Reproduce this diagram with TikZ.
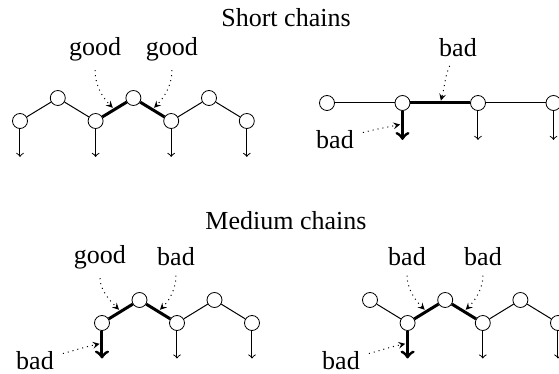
\documentclass[tikz,border=0pt]{standalone}
\usepackage{fontspec}
\setmainfont{Liberation Serif}
\usepackage{tikz}
\usetikzlibrary{positioning}

\begin{document}
\begin{tikzpicture}[
    x=0.5pt, y=0.5pt,
    font=\fontsize{13}{15}\selectfont,
    atom/.style={circle, draw, fill=white, inner sep=0pt, minimum size=7.5pt},
    bond/.style={line width=0.5pt},
    strong/.style={line width=1.5pt},
    down/.style={->, >=to, line width=0.5pt},
    downbad/.style={->, >=to, line width=1.5pt},
    hint/.style={->, >=stealth, dotted, line width=0.5pt, shorten <=3.5pt, shorten >=1.2pt},
    tag/.style={inner sep=1pt}
]
\useasboundingbox (0,0) rectangle (559,-374);

% Titles
\node (short) at (286,-18) {Short chains};
\node (medium) at (286,-221) {Medium chains};

% Short chains, left
\node[atom] (sl1) at (20,-121) {};
\node[atom] (sl2) at (57.8,-98) {};
\node[atom] (sl3) at (95.6,-121) {};
\node[atom] (sl4) at (133.4,-98) {};
\node[atom] (sl5) at (171.2,-121) {};
\node[atom] (sl6) at (209,-98) {};
\node[atom] (sl7) at (246.8,-121) {};
\draw[bond] (sl1) -- (sl2);
\draw[bond] (sl2) -- (sl3);
\draw[strong] (sl3) -- (sl4) coordinate[midway] (sl34);
\draw[strong] (sl4) -- (sl5) coordinate[midway] (sl45);
\draw[bond] (sl5) -- (sl6);
\draw[bond] (sl6) -- (sl7);
\coordinate[below=14pt of sl1] (sl1d);
\coordinate[below=14pt of sl3] (sl3d);
\coordinate[below=14pt of sl5] (sl5d);
\coordinate[below=14pt of sl7] (sl7d);
\draw[down] (sl1) -- (sl1d);
\draw[down] (sl3) -- (sl3d);
\draw[down] (sl5) -- (sl5d);
\draw[down] (sl7) -- (sl7d);

\node[tag] (slg1) at (95,-49) {good};
\node[tag] (slg2) at (172,-49) {good};
\draw[hint] (slg1) to[out=-90, in=135] (sl34);
\draw[hint] (slg2) to[out=-90, in=45] (sl45);

% Short chains, right
\node[atom] (sr1) at (327,-103) {};
\node[atom] (sr2) at (402.5,-103) {};
\node[atom] (sr3) at (478,-103) {};
\node[atom] (sr4) at (553.5,-103) {};
\draw[bond] (sr1) -- (sr2);
\draw[strong] (sr2) -- (sr3) coordinate[midway] (sr23);
\draw[bond] (sr3) -- (sr4);
\coordinate[below=14.5pt of sr2] (sr2d);
\coordinate[below=14.5pt of sr3] (sr3d);
\coordinate[below=14.5pt of sr4] (sr4d);
\draw[downbad] (sr2) -- (sr2d) coordinate[pos=0.45] (sr2m);
\draw[down] (sr3) -- (sr3d);
\draw[down] (sr4) -- (sr4d);

\node[tag] (srb1) at (458,-48) {bad};
\node[tag] (srb2) at (335,-140) {bad};
\draw[hint] (srb1) to[out=-115, in=75] (sr23);
\draw[hint] (srb2) to[out=15, in=192] (sr2m);

% Medium chains, left
\node[atom] (ml1) at (102,-323) {};
\node[atom] (ml2) at (139.5,-300) {};
\node[atom] (ml3) at (177,-323) {};
\node[atom] (ml4) at (214.5,-300) {};
\node[atom] (ml5) at (252,-323) {};
\draw[strong] (ml1) -- (ml2) coordinate[midway] (ml12);
\draw[strong] (ml2) -- (ml3) coordinate[midway] (ml23);
\draw[bond] (ml3) -- (ml4);
\draw[bond] (ml4) -- (ml5);
\coordinate[below=13.8pt of ml1] (ml1d);
\coordinate[below=13.8pt of ml3] (ml3d);
\coordinate[below=13.8pt of ml5] (ml5d);
\draw[downbad] (ml1) -- (ml1d) coordinate[pos=0.45] (ml1m);
\draw[down] (ml3) -- (ml3d);
\draw[down] (ml5) -- (ml5d);

\node[tag] (mlg1) at (100,-257) {good};
\node[tag] (mlb1) at (176,-257) {bad};
\node[tag] (mlb2) at (35,-361) {bad};
\draw[hint] (mlg1) to[out=-90, in=135] (ml12);
\draw[hint] (mlb1) to[out=-90, in=45] (ml23);
\draw[hint] (mlb2) to[out=15, in=192] (ml1m);

% Medium chains, right
\node[atom] (mr1) at (370,-300) {};
\node[atom] (mr2) at (407.6,-323) {};
\node[atom] (mr3) at (445.2,-300) {};
\node[atom] (mr4) at (482.8,-323) {};
\node[atom] (mr5) at (520.4,-300) {};
\node[atom] (mr6) at (558,-323) {};
\draw[bond] (mr1) -- (mr2);
\draw[strong] (mr2) -- (mr3) coordinate[midway] (mr23);
\draw[strong] (mr3) -- (mr4) coordinate[midway] (mr34);
\draw[bond] (mr4) -- (mr5);
\draw[bond] (mr5) -- (mr6);
\coordinate[below=13.8pt of mr2] (mr2d);
\coordinate[below=13.8pt of mr4] (mr4d);
\coordinate[below=13.8pt of mr6] (mr6d);
\draw[downbad] (mr2) -- (mr2d) coordinate[pos=0.45] (mr2m);
\draw[down] (mr4) -- (mr4d);
\draw[down] (mr6) -- (mr6d);

\node[tag] (mrb1) at (407,-257) {bad};
\node[tag] (mrb2) at (483,-257) {bad};
\node[tag] (mrb3) at (341,-361) {bad};
\draw[hint] (mrb1) to[out=-90, in=135] (mr23);
\draw[hint] (mrb2) to[out=-90, in=45] (mr34);
\draw[hint] (mrb3) to[out=15, in=192] (mr2m);

\end{tikzpicture}
\end{document}
